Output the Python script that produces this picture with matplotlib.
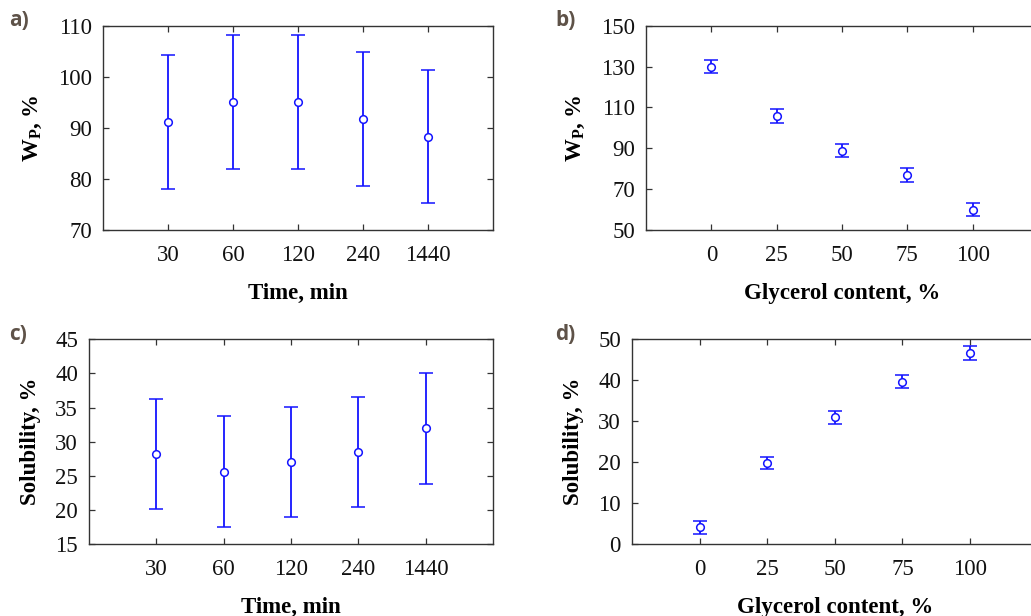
import matplotlib
matplotlib.use("Agg")
import matplotlib.pyplot as plt

plt.rcParams["font.family"] = ["Liberation Serif", "DejaVu Serif"]
plt.rcParams["mathtext.fontset"] = "custom"
plt.rcParams["mathtext.bf"] = "Liberation Serif:bold"
plt.rcParams["mathtext.rm"] = "Liberation Serif:bold"

# data
time_labels = ["30", "60", "120", "240", "1440"]
glycerol_labels = ["0", "25", "50", "75", "100"]

wp_time = [91.1, 95.1, 95.1, 91.7, 88.3]
wp_time_err = [13.1, 13.1, 13.1, 13.1, 13.1]

wp_gly = [129.9, 105.8, 88.8, 76.9, 59.9]
wp_gly_err = [3.2, 3.3, 3.2, 3.3, 3.25]

sol_time = [28.2, 25.6, 27.0, 28.5, 31.95]
sol_time_err = [8.1, 8.1, 8.1, 8.1, 8.15]

sol_gly = [4.1, 19.8, 31.0, 39.65, 46.7]
sol_gly_err = [1.6, 1.55, 1.6, 1.65, 1.65]

BLUE = "#1414ff"
LABEL_COLOR = "#5e5248"

fig = plt.figure(figsize=(10.31, 6.16), dpi=100)


def panel(rect, xvals, labels, y, yerr, ylim, yticks, xlim, xlabel, ylabel):
    ax = fig.add_axes(rect)
    ax.errorbar(xvals, y, yerr=yerr, fmt="o", color=BLUE, ecolor=BLUE,
                elinewidth=1.3, capsize=4.8, capthick=1.3,
                markersize=5.5, markerfacecolor="white", markeredgecolor=BLUE,
                markeredgewidth=1.1)
    ax.set_xlim(*xlim)
    ax.set_ylim(*ylim)
    ax.set_xticks(xvals)
    ax.set_xticklabels(labels)
    ax.set_yticks(yticks)
    ax.tick_params(direction="in", length=4, width=0.9, top=True, right=True,
                   labelsize=16.5, color="#333333", labelcolor="#111111")
    ax.tick_params(axis="x", pad=11)
    ax.tick_params(axis="y", pad=8)
    for s in ax.spines.values():
        s.set_linewidth(1.0)
        s.set_color("#333333")
    ax.set_xlabel(xlabel, fontsize=16.5, fontweight="bold", labelpad=12)
    ax.set_ylabel(ylabel, fontsize=16.5, fontweight="bold", labelpad=10)
    return ax


W, H = 1031, 616

pos_time = [1, 2, 3, 4, 5]
pos_gly = [0, 25, 50, 75, 100]

panel([103 / W, 1 - 230 / H, 390 / W, 204.3 / H], pos_time, time_labels,
      wp_time, wp_time_err, (70, 110), [70, 80, 90, 100, 110], (0, 6),
      "Time, min", r"$\mathbf{W}_\mathbf{P}$, %")
panel([646 / W, 1 - 230 / H, 392 / W, 204.3 / H], pos_gly, glycerol_labels,
      wp_gly, wp_gly_err, (50, 150), [50, 70, 90, 110, 130, 150], (-25, 125),
      "Glycerol content, %", r"$\mathbf{W}_\mathbf{P}$, %")
panel([89 / W, 1 - 544 / H, 404 / W, 204.7 / H], pos_time, time_labels,
      sol_time, sol_time_err, (15, 45), [15, 20, 25, 30, 35, 40, 45], (0, 6),
      "Time, min", "Solubility, %")
panel([632 / W, 1 - 544 / H, 405.6 / W, 204.7 / H], pos_gly, glycerol_labels,
      sol_gly, sol_gly_err, (0, 50), [0, 10, 20, 30, 40, 50], (-25, 125),
      "Glycerol content, %", "Solubility, %")

# panel letters
for tag, (x, y) in zip(["a)", "b)", "c)", "d)"],
                       [(9, 21), (555, 21), (9, 335), (555, 335)]):
    fig.text(x / W, 1 - y / H, tag, fontsize=15, fontweight="bold",
             color=LABEL_COLOR, family=["Open Sans", "DejaVu Sans"],
             ha="left", va="center")

fig.savefig("out.png", dpi=100)
